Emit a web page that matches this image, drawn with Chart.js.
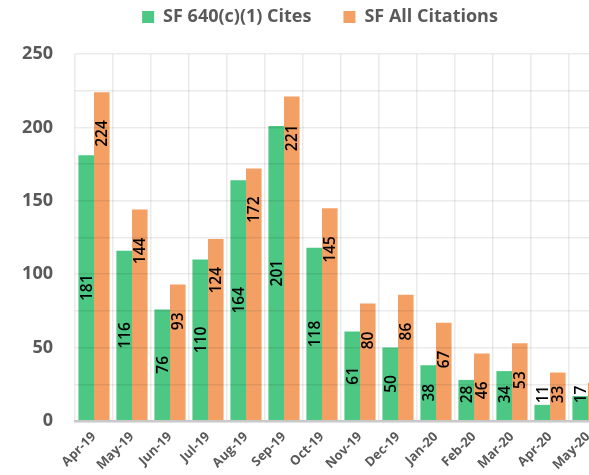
<!DOCTYPE html>
<html>
<head>
<meta charset="utf-8">
<script src="https://cdn.jsdelivr.net/npm/chart.js@4.4.1/dist/chart.umd.min.js"></script>
<style>
  html, body { margin: 0; padding: 0; background: #fff; overflow: hidden; width: 589px; height: 475px; }
  #wrap { width: 620px; height: 475px; }
</style>
</head>
<body>
<div id="wrap"><canvas id="c" width="620" height="475"></canvas></div>
<script>
// Monthly citation counts, San Francisco
const months = ['Apr-19', 'May-19', 'Jun-19', 'Jul-19', 'Aug-19', 'Sep-19', 'Oct-19',
                'Nov-19', 'Dec-19', 'Jan-20', 'Feb-20', 'Mar-20', 'Apr-20', 'May-20'];
const cites640 = [181, 116, 76, 110, 164, 201, 118, 61, 50, 38, 28, 34, 11, 17];
const allCitations = [224, 144, 93, 124, 172, 221, 145, 80, 86, 67, 46, 53, 33, 26];
const seriesNames = ['SF 640(c)(1) Cites', 'SF All Citations'];

// value axis: gridlines every 25, labels every 50
const yMax = 250;
const yGridStep = 25;
const yLabelStep = 50;

const GREEN = '#4cc784';
const ORANGE = '#f4a064';
const TEXT = '#595959';
const FONT = "'Open Sans', sans-serif";

// Rotated value labels inside the bars
const barLabels = {
  id: 'barLabels',
  afterDraw(chart) {
    const ctx = chart.ctx;
    ctx.save();
    ctx.font = '600 15.5px ' + FONT;
    ctx.fillStyle = '#000';
    ctx.textAlign = 'center';
    ctx.textBaseline = 'alphabetic';
    const capH = 11;
    chart.data.datasets.forEach((ds, di) => {
      const meta = chart.getDatasetMeta(di);
      meta.data.forEach((bar, i) => {
        const txt = String(ds.data[i]);
        const tw = ctx.measureText(txt).width;
        const top = bar.y, base = bar.base;
        const floor = base - 17 - tw / 2;
        let cy = di === 0 ? (top + base) / 2 : top + 28 + tw / 2;
        cy = Math.min(cy, floor);
        ctx.save();
        ctx.translate(bar.x, cy);
        ctx.rotate(-Math.PI / 2);
        ctx.fillText(txt, 0, capH / 2);
        ctx.restore();
      });
    });
    ctx.restore();
  }
};

// Fixed legend band height and placement
const legendPlacement = {
  id: 'legendPlacement',
  beforeLayout(chart) {
    const lg = chart.legend;
    if (lg && !lg.__fixed) {
      const fit = lg.fit.bind(lg);
      lg.fit = function () { fit(); this.height = 54; };
      lg.__fixed = true;
    }
  },
  beforeDraw(chart) {
    const lg = chart.legend;
    if (lg) {
      lg.right = lg.left + 640;
      lg.top = -24;
    }
  }
};

function draw() {
  Chart.defaults.font.family = FONT;
  new Chart(document.getElementById('c'), {
    type: 'bar',
    data: {
      labels: months,
      datasets: [
        { label: seriesNames[0], data: cites640, backgroundColor: GREEN, borderWidth: 0 },
        { label: seriesNames[1], data: allCitations, backgroundColor: ORANGE, borderWidth: 0 }
      ]
    },
    options: {
      responsive: false,
      animation: false,
      layout: { padding: { top: 0, left: 0, right: 13, bottom: 0 } },
      datasets: { bar: { categoryPercentage: 0.82, barPercentage: 1.0 } },
      plugins: {
        tooltip: { enabled: false },
        legend: {
          position: 'top',
          labels: {
            color: TEXT,
            font: { size: 18, weight: 'bold', family: FONT },
            boxWidth: 12,
            boxHeight: 12,
            padding: 32
          }
        }
      },
      scales: {
        x: {
          grid: { color: 'rgba(0,0,0,0.08)', lineWidth: 1.5, drawTicks: false, offset: true, z: 1 },
          border: { color: '#c8c8c8', width: 2.5, z: 2 },
          ticks: {
            color: TEXT,
            font: { size: 13, weight: 'bold', family: FONT },
            minRotation: 45,
            maxRotation: 45,
            padding: 8,
            autoSkip: false
          },
          afterFit(scale) { scale.height = 54; }
        },
        y: {
          min: 0,
          max: yMax,
          grid: { color: 'rgba(0,0,0,0.08)', lineWidth: 1.5, drawTicks: false, z: 1 },
          border: { display: false },
          ticks: {
            stepSize: yGridStep,
            color: TEXT,
            font: { size: 18, weight: 'bold', family: FONT },
            padding: 22,
            callback: (v) => (v % yLabelStep === 0 ? String(v) : '')
          },
          afterFit(scale) { scale.width = 75; }
        }
      }
    },
    plugins: [legendPlacement, barLabels]
  });
}

Promise.all([
  document.fonts.load('bold 16px "Open Sans"'),
  document.fonts.load('600 16px "Open Sans"'),
  document.fonts.load('16px "Open Sans"')
]).then(draw, draw);
</script>
</body>
</html>
